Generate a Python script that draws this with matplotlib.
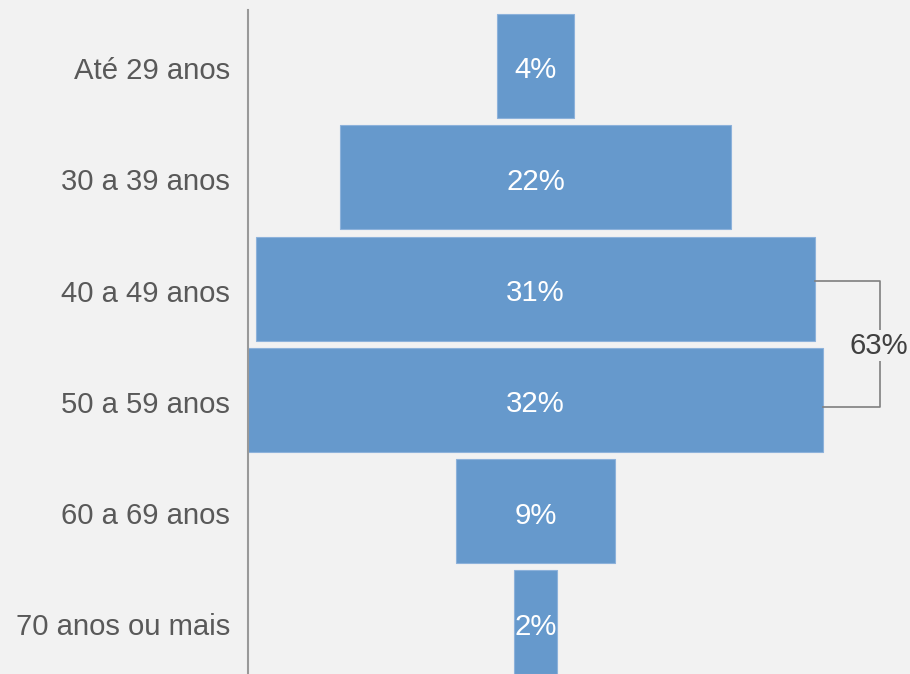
import matplotlib.pyplot as plt
import matplotlib.transforms as mtransforms
import numpy as np

plt.rcParams.update({
    "font.family": ["Liberation Sans", "DejaVu Sans"],
    "font.size": 21,
})

# Faixas etárias e percentuais (larguras estimadas; rótulos arredondados)
faixas = ["Até 29 anos", "30 a 39 anos", "40 a 49 anos",
          "50 a 59 anos", "60 a 69 anos", "70 anos ou mais"]
percentuais = [4.3, 21.8, 31.1, 32.0, 8.8, 2.4]
total_destaque = "63%"
grupo_destaque = [2, 3]

bg = "#f2f2f2"
bar_color = "#6699cc"

fig = plt.figure(figsize=(9.1, 6.74), dpi=100, facecolor=bg)
ax = fig.add_axes([248 / 910, 0, 1 - 248 / 910, 664 / 674], facecolor=bg)

vals = np.asarray(percentuais)
pos = np.arange(len(faixas))
centro = vals.max() / 2
ax.barh(pos, vals, left=centro - vals / 2, height=0.934, color=bar_color,
        edgecolor="#8db2db", linewidth=0.8)

for p, v in zip(pos, vals):
    ax.text(centro, p + 0.04, f"{round(v)}%", ha="center", va="center",
            color="white", fontsize=21.2)

ax.set_xlim(0, 662 / 17.97)
ax.set_ylim(5.463, -0.503)
ax.set_yticks(pos)
ax.set_yticklabels(faixas, color="#595959", fontsize=21.1)
ax.tick_params(axis="y", length=0, pad=13)
shift = mtransforms.ScaledTranslation(0, -2 / 100, fig.dpi_scale_trans)
for lbl in ax.get_yticklabels():
    lbl.set_transform(lbl.get_transform() + shift)
ax.set_xticks([])
for s in ["top", "right", "bottom"]:
    ax.spines[s].set_visible(False)
ax.spines["left"].set_color("#999999")
ax.spines["left"].set_linewidth(1.5)

# colchete do destaque
a, b = grupo_destaque
xb = 35.17
ya, yb = a - 0.07, b + 0.06
ax.plot([centro + vals[a] / 2, xb, xb, centro + vals[b] / 2],
        [ya, ya, yb, yb], color="#7f7f7f", linewidth=1.2, clip_on=False)
ax.text(xb - 0.05, (ya + yb) / 2 + 0.02, total_destaque, ha="center",
        va="center", color="#404040", fontsize=21.2,
        bbox=dict(facecolor=bg, edgecolor="none", pad=1))

fig.savefig("out.png", dpi=100, facecolor=bg)
